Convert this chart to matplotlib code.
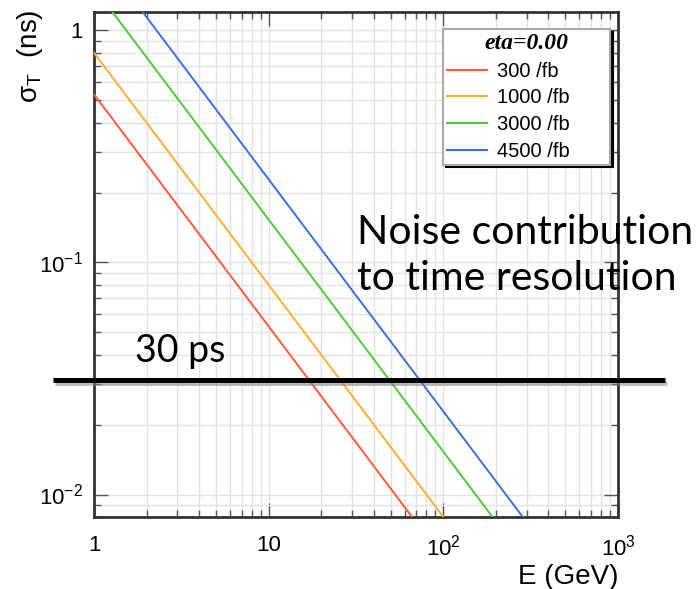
import matplotlib
matplotlib.use("Agg")
import matplotlib.pyplot as plt
import matplotlib.patheffects as pe
from matplotlib.ticker import FixedLocator, FixedFormatter, LogLocator, NullFormatter
import matplotlib.transforms as mtransforms

# ---- data ----
energy = [1, 10, 100, 1000]
sigma_300 = [0.53, 0.053, 0.0053, 0.00053]
sigma_1000 = [0.80, 0.080, 0.0080, 0.00080]
sigma_3000 = [1.53, 0.153, 0.0153, 0.00153]
sigma_4500 = [2.28, 0.228, 0.0228, 0.00228]
series_labels = ["300 /fb", "1000 /fb", "3000 /fb", "4500 /fb"]
series_colors = ["#ff5a3a", "#ffad33", "#4ccc33", "#3a6fdd"]
line_30ps = 0.0312

x_ticks = [1, 10, 100, 1000]
x_ticklabels = ["1", "10", "$10^{2}$", "$10^{3}$"]
y_ticks = [0.01, 0.1, 1]
y_ticklabels = ["$10^{-2}$", "$10^{-1}$", "1"]

plt.rcParams["font.family"] = ["Liberation Sans", "DejaVu Sans"]
plt.rcParams["mathtext.fontset"] = "custom"
plt.rcParams["mathtext.rm"] = "Liberation Sans"
plt.rcParams["mathtext.it"] = "Liberation Sans:italic"

fig = plt.figure(figsize=(7.0, 5.89), dpi=100)
ax = fig.add_axes([94/700, 1-517/589, (618-94)/700, (517-12)/589])
ax.set_xscale("log")
ax.set_yscale("log")
ax.set_xlim(1, 1000)
ax.set_ylim(0.008, 1.2)

for ys, lab, col in zip([sigma_300, sigma_1000, sigma_3000, sigma_4500], series_labels, series_colors):
    ax.plot(energy, ys, color=col, lw=1.4, label=lab, zorder=3)

ax.xaxis.set_major_locator(FixedLocator(x_ticks))
ax.xaxis.set_major_formatter(FixedFormatter(x_ticklabels))
ax.yaxis.set_major_locator(FixedLocator(y_ticks))
ax.yaxis.set_major_formatter(FixedFormatter(y_ticklabels))
ax.xaxis.set_minor_locator(LogLocator(base=10, subs=range(2, 10)))
ax.yaxis.set_minor_locator(LogLocator(base=10, subs=range(2, 10)))
ax.xaxis.set_minor_formatter(NullFormatter())
ax.yaxis.set_minor_formatter(NullFormatter())

ax.grid(True, which="both", color="#e2e2e2", lw=1.0, zorder=0)
ax.set_axisbelow(True)
ax.tick_params(which="both", direction="in", top=True, right=True, color="#555555")
ax.tick_params(which="major", length=10, width=1.0, labelsize=16)
ax.tick_params(which="minor", length=5, width=1.0)
ax.tick_params(axis="x", which="major", pad=13)
ax.tick_params(axis="y", which="major", pad=8)
for s in ax.spines.values():
    s.set_linewidth(2.0)
    s.set_color("#333333")

fig.text(30/700, 1-56/589, r"$\mathregular{\sigma_{T}}$  (ns)", rotation=90, fontsize=20,
         ha="center", va="center")
fig.text(618/700, 1-577/589, "E (GeV)", fontsize=20, ha="right", va="center")

# legend
lx0 = (443-94)/524
lw_ = (610-443)/524
ltop = 1-(29-12)/505
leg = ax.legend(loc="upper left", bbox_to_anchor=(lx0, ltop - 0.3, lw_, 0.3), mode="expand",
                title="eta=0.00", fontsize=14.5, frameon=True, fancybox=False,
                shadow={"color": "black", "alpha": 1.0}, edgecolor="#aaaaaa",
                handlelength=2.0, handletextpad=0.5, borderpad=0.2,
                labelspacing=0.38, borderaxespad=0)
leg.get_title().set_fontfamily("Liberation Serif")
leg.get_title().set_fontweight("bold")
leg.get_title().set_fontstyle("italic")
leg.get_title().set_fontsize(17)
leg.get_frame().set_linewidth(1.5)
for h in leg.get_lines():
    h.set_linewidth(1.5)

# 30 ps horizontal line (extends beyond axes)
trans = mtransforms.blended_transform_factory(ax.transAxes, ax.transData)
x0 = (53-94)/524
x1 = (665-94)/524
ax.plot([x0, x1], [line_30ps, line_30ps], transform=trans, color="black", lw=3.6,
        clip_on=False, zorder=5, solid_capstyle="butt",
        path_effects=[pe.SimpleLineShadow(offset=(1.5, -2.5), shadow_color="gray", alpha=0.5), pe.Normal()])

fig.text(135/700, 1-351/589, "30 ps", fontsize=27, family=["Lato", "DejaVu Sans"],
         ha="left", va="center")
fig.text(357/700, 1-256/589, "Noise contribution\nto time resolution", fontsize=29.5,
         family=["Lato", "DejaVu Sans"], ha="left", va="center", linespacing=1.3)

fig.savefig("out.png", dpi=100)
